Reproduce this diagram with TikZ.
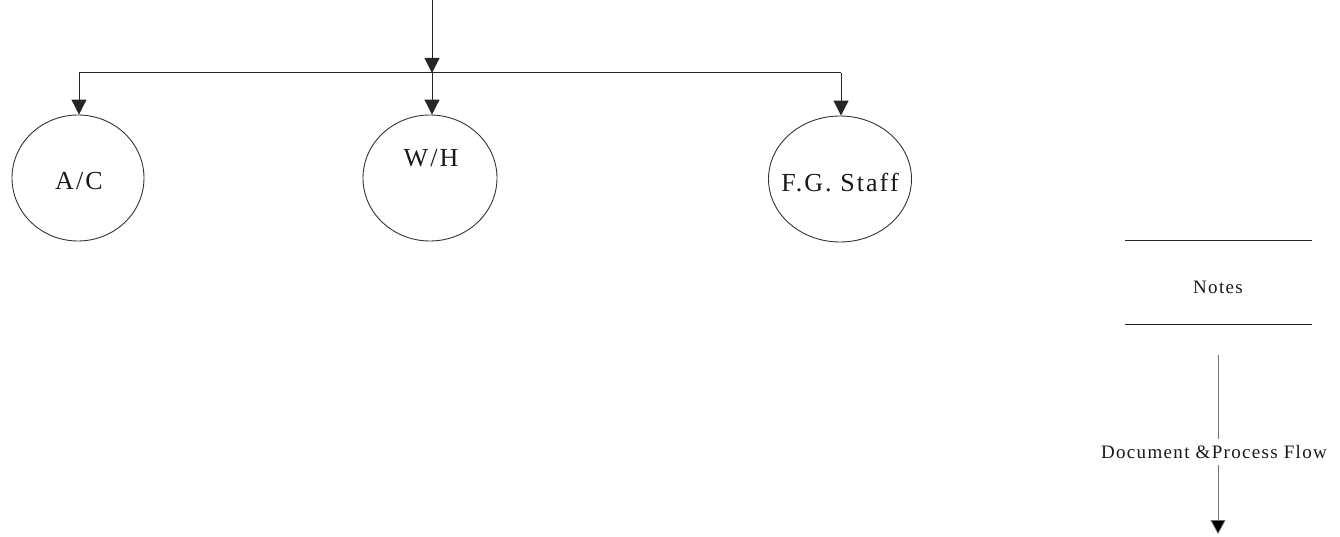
\documentclass[tikz,border=0pt]{standalone}
\usepackage{fontspec}
\setmainfont{Liberation Serif}
\newfontfamily\labelfont[LetterSpace=8]{Liberation Serif}
\newfontfamily\notefont[LetterSpace=7]{Liberation Serif}
\usetikzlibrary{arrows.meta,shapes.geometric}
\begin{document}
\begin{tikzpicture}[x=1pt,y=-1pt,
  wire/.style={draw=black!85,line width=1pt},
  flow/.style={wire,-{Triangle[width=15pt,length=15pt]}},
  unit/.style={ellipse,draw=black!80,line width=0.9pt,minimum height=126pt,inner sep=0pt},
  unitlabel/.style={font=\labelfont\fontsize{26}{26}\selectfont,text=black!90,inner sep=0pt,anchor=base},
  note/.style={font=\notefont\fontsize{19}{19}\selectfont,text=black!90,inner sep=0pt}]
  \useasboundingbox (0,0) rectangle (1340,537);

  % receiving units
  \node[unit,minimum width=132pt] (ac) at (78,178) {};
  \node[unit,minimum width=134pt] (wh) at (430,178) {};
  \node[unit,minimum width=143pt] (fg) at (840,179) {};
  \node[unitlabel] (aclab) at (79,190) {A/C};
  \node[unitlabel] (whlab) at (431,167) {W/H};
  \node[unitlabel] (fglab) at (840,192) {F.G. Staff};

  % distribution of the incoming flow
  \coordinate (src) at (432,0);
  \coordinate (jn) at (432,73);
  \coordinate (lc) at (79,73);
  \coordinate (rc) at (841,73);
  \draw[flow] (src) -- (jn);
  \draw[wire] (lc) -- (rc);
  \draw[flow] (lc) -- (lc |- ac.north);
  \draw[flow] (jn) -- (jn |- wh.north);
  \draw[flow] (rc) -- (rc |- fg.north);

  % legend
  \coordinate (n1a) at (1125,240);
  \coordinate (n1b) at (1312,240);
  \coordinate (n2a) at (1125,324);
  \coordinate (n2b) at (1312,324);
  \draw[wire,line width=0.8pt] (n1a) -- (n1b);
  \draw[wire,line width=0.8pt] (n2a) -- (n2b);
  \node[note] (notes) at (1218,287) {Notes};

  \coordinate (lgtop) at (1218,355);
  \coordinate (lgend) at (1218,534);
  \draw[flow,draw=black!55,line width=0.7pt,-{Triangle[width=15pt,length=14pt,fill=black]}] (lgtop) -- (lgend);
  \node[note,fill=white,inner ysep=6pt,inner xsep=2pt] (flowlab) at (1214,452) {Document \&Process Flow};
\end{tikzpicture}
\end{document}
